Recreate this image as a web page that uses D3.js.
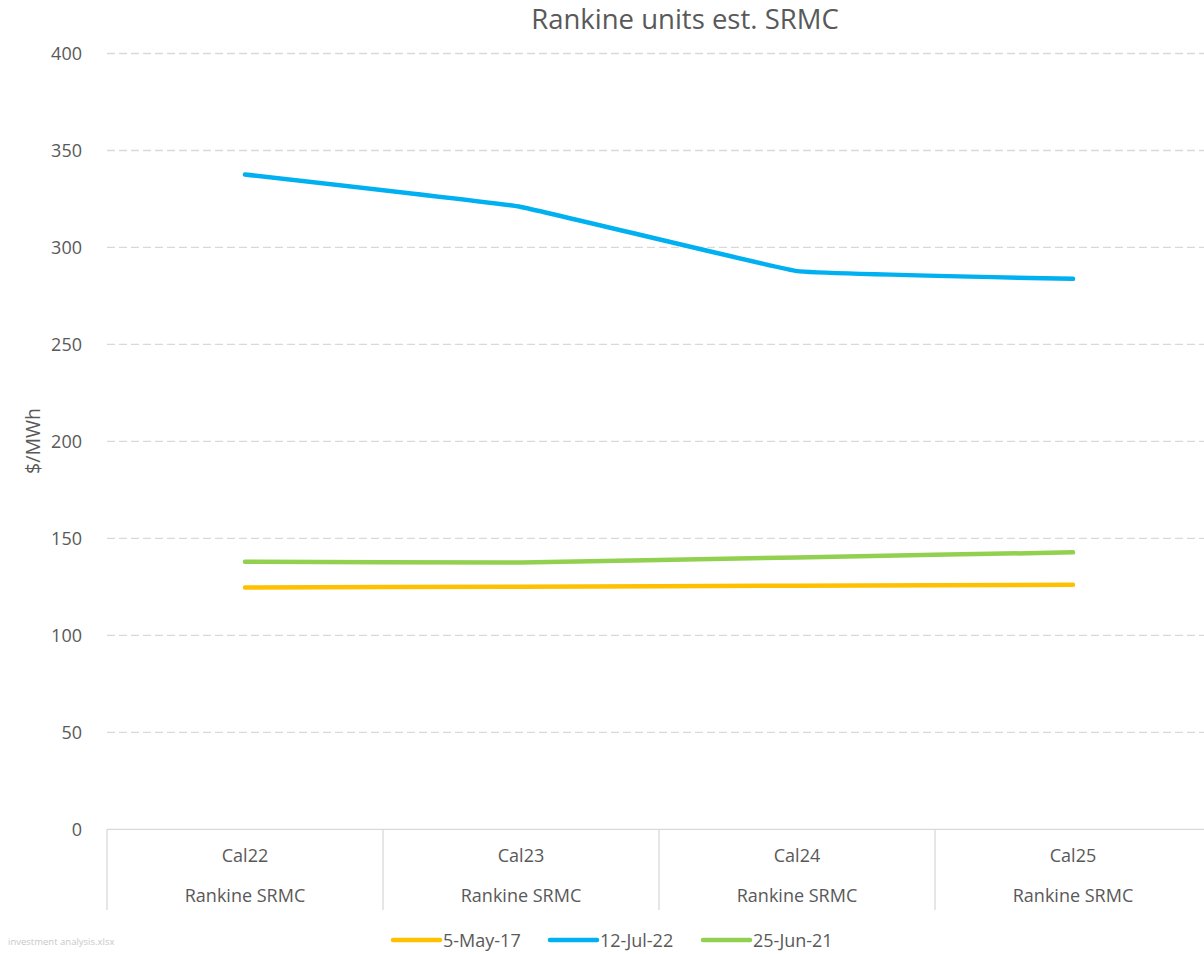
<!DOCTYPE html>
<html>
<head>
<meta charset="utf-8">
<script src="https://cdn.jsdelivr.net/npm/d3@7"></script>
<style>
  html, body { margin: 0; padding: 0; background: #fff; }
  svg { display: block; font-family: "Open Sans", "Noto Sans", sans-serif; }
</style>
</head>
<body>
<svg id="chart" width="1204" height="954"></svg>
<script>
// Calendar years and the level-2 label under each
const categories = ["Cal22", "Cal23", "Cal24", "Cal25"];
const groupLabel = "Rankine SRMC";

// Estimated SRMC ($/MWh) per pricing date
const may17 = [124.7, 125.1, 125.6, 126.1];
const jul22 = [337.6, 320.9, 287.8, 283.8];
const jun21 = [138.0, 137.5, 140.2, 142.8];

const seriesNames = ["5-May-17", "12-Jul-22", "25-Jun-21"];
const seriesColors = ["#FFC000", "#00B0F0", "#92D050"];
const yTicks = [0, 50, 100, 150, 200, 250, 300, 350, 400];

const series = [may17, jul22, jun21].map((vals, i) => ({
  name: seriesNames[i], color: seriesColors[i], values: vals
}));

const svg = d3.select("#chart");
const W = 1204, H = 954;
const plot = { left: 107, right: 1211, top: 53.5, bottom: 829.3 };

const x = d3.scaleBand().domain(categories).range([plot.left, plot.right]);
const y = d3.scaleLinear().domain([0, 400]).range([plot.bottom, plot.top]);

const textColor = "#595959";
const gridColor = "#d9d9d9";
const labelSize = 18;

// Title
svg.append("text")
  .attr("x", 685).attr("y", 28.5)
  .attr("text-anchor", "middle")
  .attr("font-size", 27.5)
  .attr("fill", textColor)
  .text("Rankine units est. SRMC");

// Horizontal dashed gridlines
svg.append("g").selectAll("line")
  .data(yTicks.filter(d => d > 0))
  .join("line")
  .attr("x1", plot.left).attr("x2", W)
  .attr("y1", d => y(d)).attr("y2", d => y(d))
  .attr("stroke", gridColor)
  .attr("stroke-width", 1.3)
  .attr("stroke-dasharray", "8,4");

// Y tick labels
const yAxis = d3.axisLeft(y).tickValues(yTicks).tickSize(0).tickPadding(0);
const gy = svg.append("g").attr("transform", `translate(82,0)`).call(yAxis);
gy.select(".domain").remove();
gy.selectAll("text")
  .attr("font-size", labelSize)
  .attr("font-family", "\"Open Sans\", sans-serif")
  .attr("fill", textColor);

// Y axis title
svg.append("text")
  .attr("transform", `translate(40,441) rotate(-90)`)
  .attr("text-anchor", "middle")
  .attr("font-size", 19.5)
  .attr("fill", textColor)
  .text("$/MWh");

// Category axis: baseline and group separators
svg.append("line")
  .attr("x1", plot.left).attr("x2", W)
  .attr("y1", plot.bottom).attr("y2", plot.bottom)
  .attr("stroke", gridColor).attr("stroke-width", 1.3);

const sepX = categories.map(c => x(c)).concat([x(categories[categories.length - 1]) + x.bandwidth()]);
svg.append("g").selectAll("line")
  .data(sepX)
  .join("line")
  .attr("x1", d => d).attr("x2", d => d)
  .attr("y1", plot.bottom).attr("y2", 910)
  .attr("stroke", gridColor).attr("stroke-width", 1.3);

const catG = svg.append("g");
catG.selectAll("text.cat")
  .data(categories)
  .join("text")
  .attr("class", "cat")
  .attr("x", d => x(d) + x.bandwidth() / 2)
  .attr("y", 862)
  .attr("text-anchor", "middle")
  .attr("font-size", labelSize)
  .attr("fill", textColor)
  .text(d => d);
catG.selectAll("text.grp")
  .data(categories)
  .join("text")
  .attr("class", "grp")
  .attr("x", d => x(d) + x.bandwidth() / 2)
  .attr("y", 902)
  .attr("text-anchor", "middle")
  .attr("font-size", labelSize)
  .attr("fill", textColor)
  .text(groupLabel);

// Series lines (lightly smoothed)
const line = d3.line()
  .x((d, i) => x(categories[i]) + x.bandwidth() / 2)
  .y(d => y(d))
  .curve(d3.curveCardinal.tension(0.8));

svg.append("g").selectAll("path")
  .data(series)
  .join("path")
  .attr("d", d => line(d.values))
  .attr("fill", "none")
  .attr("stroke", d => d.color)
  .attr("stroke-width", 4.5)
  .attr("stroke-linecap", "round")
  .attr("stroke-linejoin", "round");

// Legend
const legendX = [393, 550, 703];
const lg = svg.append("g").selectAll("g")
  .data(series)
  .join("g")
  .attr("transform", (d, i) => `translate(${legendX[i]},940)`);
lg.append("line")
  .attr("x1", 0).attr("x2", 47)
  .attr("y1", 0).attr("y2", 0)
  .attr("stroke", d => d.color)
  .attr("stroke-width", 4.5)
  .attr("stroke-linecap", "round");
lg.append("text")
  .attr("x", 50).attr("y", 6.5)
  .attr("font-size", labelSize)
  .attr("fill", textColor)
  .text(d => d.name);

// Source file note
svg.append("text")
  .attr("x", 8).attr("y", 945)
  .attr("font-size", 9.5)
  .attr("fill", "#c8c8c8")
  .text("investment analysis.xlsx");
</script>
</body>
</html>
